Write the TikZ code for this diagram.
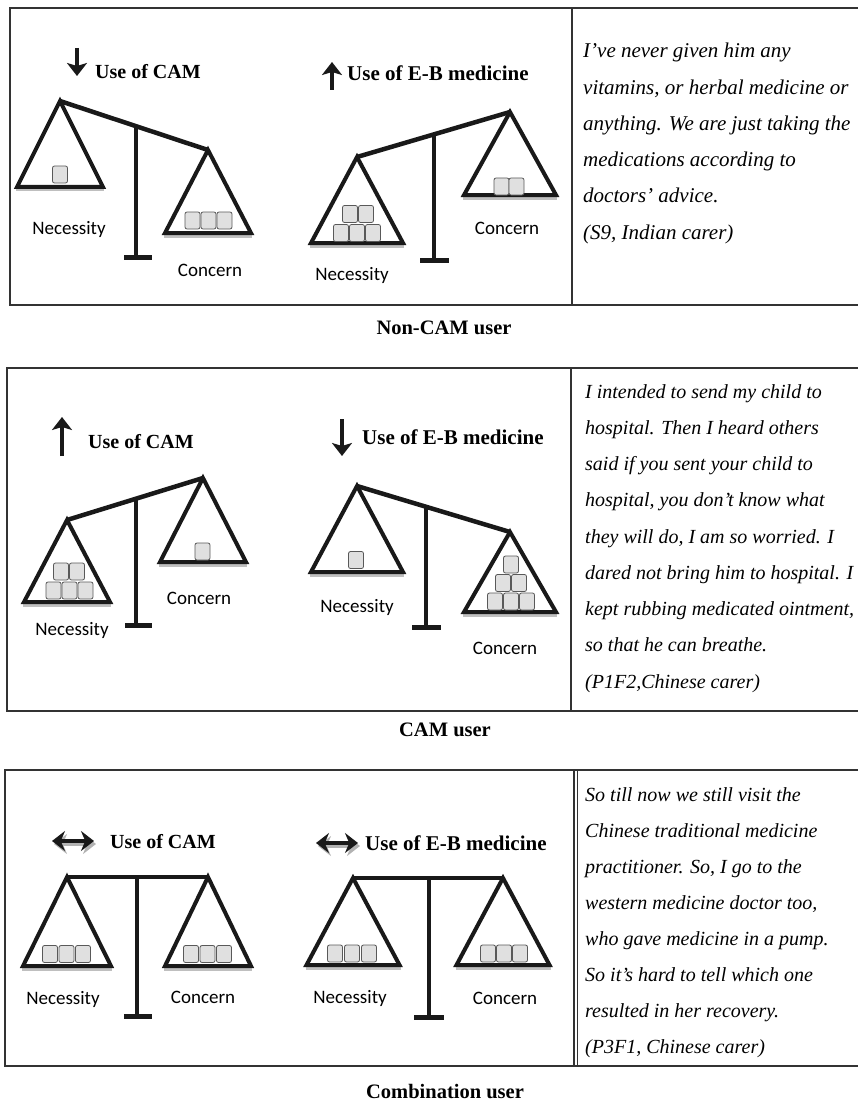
\documentclass[tikz,border=0pt]{standalone}
\usepackage{fontspec}
\setmainfont{Liberation Serif}
\newfontfamily\labelfont{Carlito}
\usetikzlibrary{arrows.meta,calc}
\tikzset{
  >={Stealth[length=12pt 0 0,width=16pt 0 0]},
  frameline/.style={draw=black!80, line width=1.4pt},
  splitline/.style={draw=black!80, line width=1.8pt},
  beam/.style={black!90, line width=4.5pt},
  pan/.style={black!90, line width=4pt, line join=miter},
  panshade/.style={black!25, line width=3pt},
  foot/.style={black!90, line width=5pt},
  pill/.style={rectangle, rounded corners=2pt, draw=black!65, fill=black!12,
               line width=0.8pt, minimum width=15pt, minimum height=17pt, inner sep=0pt},
  heading/.style={font=\fontsize{20}{24}\selectfont\bfseries, inner sep=0pt, anchor=west},
  plabel/.style={font=\labelfont\fontsize{19}{22}\selectfont, inner sep=0pt},
  quote/.style={font=\fontsize{20}{24}\selectfont\itshape, inner sep=0pt, anchor=base west},
  caption/.style={font=\fontsize{20.5}{24}\selectfont\bfseries, inner sep=0pt},
  trend/.style={-{Stealth[length=13pt 0 0,width=20pt 0 0,inset=3pt 0 0]}, black!90, line width=3.5pt},
  even/.style={{Stealth[length=13pt 0 0,width=20pt 0 0]}-{Stealth[length=13pt 0 0,width=20pt 0 0]},
               black!90, line width=4pt},
  evenshade/.style={even, black!30},
  pics/pan/.style 2 args={code={
    \draw[panshade] (-#1-1,#2+3) -- (#1+1,#2+3);
    \draw[pan] (-#1,#2) -- (0,0) -- (#1,#2) -- cycle;
  }},
}
\begin{document}
\begin{tikzpicture}[x=1pt,y=-1pt]
  \useasboundingbox (0,0) rectangle (858,1102);

  % ---------- Non-CAM user ----------
  \draw[frameline] (10,8) rectangle (870,305);
  \draw[splitline] (572,8) -- (572,305);

  \draw[trend] (77,48) -- (77,76);
  \node[heading] (h1a) at (95,72) {Use of CAM};
  \coordinate (l1) at (60,101);
  \coordinate (r1) at (208,150);
  \draw[beam] (136,126) -- (136,257);
  \draw[foot] (124,257) -- (152,257);
  \draw[beam] (l1) -- (r1);
  \pic at (l1) {pan={43}{86}};
  \pic at (r1) {pan={43}{83}};
  \foreach \bx/\by [count=\k] in {60/174.5}
    \node[pill] (p1a-\k) at (\bx,\by) {};
  \foreach \bx/\by [count=\k] in {192.5/220.5, 208.5/220.5, 224.5/220.5}
    \node[pill] (p1b-\k) at (\bx,\by) {};
  \node[plabel] (nec1a) at (69,229) {Necessity};
  \node[plabel] (con1a) at (210,270) {Concern};

  \draw[trend] (332,90) -- (332,62);
  \node[heading, font=\fontsize{21}{24}\selectfont\bfseries] (h1b) at (347,73) {Use of E-B medicine};
  \coordinate (l2) at (357,157);
  \coordinate (r2) at (510,112);
  \draw[beam] (434,134) -- (434,260);
  \draw[foot] (420,260) -- (449,260);
  \draw[beam] (l2) -- (r2);
  \pic at (l2) {pan={46}{86}};
  \pic at (r2) {pan={46}{83}};
  \foreach \bx/\by [count=\k] in {350/214, 366/214, 341/233, 357/233, 373/233}
    \node[pill] (p1c-\k) at (\bx,\by) {};
  \foreach \bx/\by [count=\k] in {501.5/186.5, 516.5/186.5}
    \node[pill] (p1d-\k) at (\bx,\by) {};
  \node[plabel] (nec1b) at (352,275) {Necessity};
  \node[plabel] (con1b) at (507,228) {Concern};

  \foreach \ln [count=\i] in {{I’ve never given him any},
      {vitamins, or herbal medicine or}, {anything. We are just taking the},
      {medications according to}, {doctors’ advice.}, {(S9, Indian carer)}}
    \node[quote, font=\fontsize{21}{24}\selectfont\itshape] (qa\i) at (583,{58+36.2*(\i-1)}) {\ln};

  \node[caption] (cap1) at (444,328) {Non-CAM user};

  % ---------- CAM user ----------
  \draw[frameline] (7,368) rectangle (870,711);
  \draw[splitline] (571,368) -- (571,711);

  \draw[trend] (62,456) -- (62,417);
  \node[heading] (h2a) at (88,442) {Use of CAM};
  \coordinate (l3) at (67,520);
  \coordinate (r3) at (203,478);
  \draw[beam] (136,499) -- (136,625);
  \draw[foot] (125,625) -- (152,625);
  \draw[beam] (l3) -- (r3);
  \pic at (l3) {pan={43}{82}};
  \pic at (r3) {pan={43}{84}};
  \foreach \bx/\by [count=\k] in {61/571.5, 77/571.5, 53.5/590.5, 69.5/590.5, 85.5/590.5}
    \node[pill] (p2a-\k) at (\bx,\by) {};
  \foreach \bx/\by [count=\k] in {202.5/551.5}
    \node[pill] (p2b-\k) at (\bx,\by) {};
  \node[plabel] (nec2a) at (72,630) {Necessity};
  \node[plabel] (con2a) at (199,598) {Concern};

  \draw[trend] (342,419) -- (342,456);
  \node[heading, font=\fontsize{21}{24}\selectfont\bfseries] (h2b) at (362,437) {Use of E-B medicine};
  \coordinate (l4) at (357,486);
  \coordinate (r4) at (510,532);
  \draw[beam] (426,507) -- (426,627);
  \draw[foot] (412,627) -- (441,627);
  \draw[beam] (l4) -- (r4);
  \pic at (l4) {pan={46}{86}};
  \pic at (r4) {pan={46}{80}};
  \foreach \bx/\by [count=\k] in {356/560}
    \node[pill] (p2c-\k) at (\bx,\by) {};
  \foreach \bx/\by [count=\k] in {511/564.5, 503/583, 519/583, 495/601.5, 511/601.5, 527/601.5}
    \node[pill] (p2d-\k) at (\bx,\by) {};
  \node[plabel] (nec2b) at (357,607) {Necessity};
  \node[plabel] (con2b) at (505,648) {Concern};

  \foreach \ln [count=\i] in {{I intended to send my child to},
      {hospital. Then I heard others}, {said if you sent your child to},
      {hospital, you don’t know what}, {they will do, I am so worried. I},
      {dared not bring him to hospital. I}, {kept rubbing medicated ointment,},
      {so that he can breathe.}, {(P1F2,Chinese carer)}}
    \node[quote] (qb\i) at (585,{398+36.25*(\i-1)}) {\ln};

  \node[caption] (cap2) at (445,730) {CAM user};

  % ---------- Combination user ----------
  \draw[frameline] (5,770) rectangle (870,1066);
  \draw[frameline] (574,770) -- (574,1066);
  \draw[frameline] (577.5,770) -- (577.5,1066);

  \draw[evenshade] (54,844) -- (96,844);
  \draw[even] (52,841) -- (94,841);
  \node[heading] (h3a) at (110,842) {Use of CAM};
  \coordinate (l5) at (67,877);
  \coordinate (r5) at (208,877);
  \draw[beam] (137,877) -- (137,1016);
  \draw[foot] (124,1016) -- (152,1016);
  \draw[beam] (l5) -- (r5);
  \pic at (l5) {pan={44}{89}};
  \pic at (r5) {pan={43}{89}};
  \foreach \bx/\by [count=\k] in {50/954, 66.5/954, 83/954}
    \node[pill] (p3a-\k) at (\bx,\by) {};
  \foreach \bx/\by [count=\k] in {191/954, 207.5/954, 224/954}
    \node[pill] (p3b-\k) at (\bx,\by) {};
  \node[plabel] (nec3a) at (63,999) {Necessity};
  \node[plabel] (con3a) at (203,997) {Concern};

  \draw[evenshade] (318,846) -- (360,846);
  \draw[even] (316,843) -- (358,843);
  \node[heading, font=\fontsize{21}{24}\selectfont\bfseries] (h3b) at (365,843) {Use of E-B medicine};
  \coordinate (l6) at (353,878);
  \coordinate (r6) at (503,878);
  \draw[beam] (429,878) -- (429,1017);
  \draw[foot] (414,1017) -- (444,1017);
  \draw[beam] (l6) -- (r6);
  \pic at (l6) {pan={46.5}{87}};
  \pic at (r6) {pan={46.5}{87}};
  \foreach \bx/\by [count=\k] in {335/953.5, 352/953.5, 369/953.5}
    \node[pill] (p3c-\k) at (\bx,\by) {};
  \foreach \bx/\by [count=\k] in {488/953.5, 504/953.5, 520/953.5}
    \node[pill] (p3d-\k) at (\bx,\by) {};
  \node[plabel] (nec3b) at (350,998) {Necessity};
  \node[plabel] (con3b) at (505,998) {Concern};

  \foreach \ln [count=\i] in {{So till now we still visit the},
      {Chinese traditional medicine}, {practitioner. So, I go to the},
      {western medicine doctor too,}, {who gave medicine in a pump.},
      {So it's hard to tell which one}, {resulted in her recovery.},
      {(P3F1, Chinese carer)}}
    \node[quote] (qc\i) at (585,{801+36.1*(\i-1)}) {\ln};

  \node[caption] (cap3) at (445,1091) {Combination user};

\end{tikzpicture}
\end{document}
